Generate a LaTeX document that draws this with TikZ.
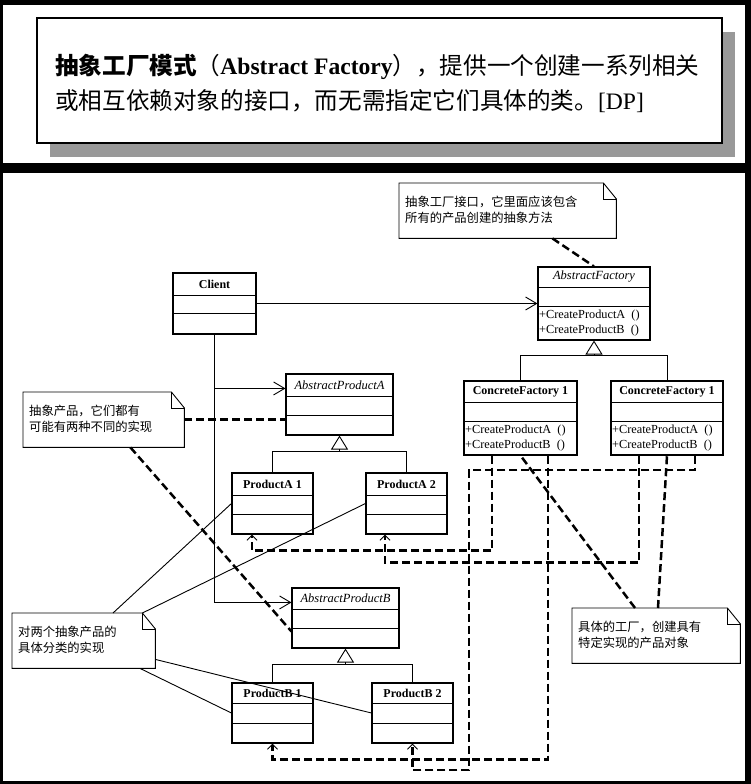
\documentclass[tikz,border=0pt]{standalone}
\usepackage{fontspec}
\setmainfont{Liberation Serif}
\newfontfamily\cjk{Noto Sans CJK SC}
\usetikzlibrary{arrows.meta,calc}

\tikzset{
 thinline/.style={line width=0.9pt},
 clsbox/.style={draw, line width=1.1pt, inner sep=0pt},
 clsname/.style={font=\fontsize{12}{13}\selectfont\bfseries, inner sep=0pt},
 absname/.style={font=\fontsize{12.5}{13}\selectfont\itshape, inner sep=0pt},
 methods/.style={font=\fontsize{12.3}{15}\selectfont, align=left, inner sep=0pt, anchor=west},
 notebox/.style={inner sep=0pt, anchor=north west},
 notetext/.style={font=\cjk\fontsize{12.3}{15.5}\selectfont, align=left, inner sep=0pt, anchor=north west},
 assoc/.style={thinline, -{Straight Barb[length=11pt,width=13pt]}},
 inherit/.style={thinline, -{Triangle[open,length=14pt,width=17pt]}},
 dep/.style={line width=2.5pt, dash pattern=on 8pt off 4pt, -{Straight Barb[length=5pt,width=10pt,line width=1pt]}},
 notelink/.style={line width=2.5pt, dash pattern=on 8pt off 4pt},
}

\newcommand\umlcls[9]{%
 \node[clsbox, minimum width=#4pt, minimum height=#5pt] (#1) at ({#2+#4/2},{#3+#5/2}) {};
 \draw[thinline] ($(#1.north west)+(0,#6)$) -- ($(#1.north east)+(0,#6)$);
 \draw[thinline] ($(#1.north west)+(0,#7)$) -- ($(#1.north east)+(0,#7)$);
 \node[#8] (#1-t) at ($(#1.north)+(0,#6/2)$) {#9};
}
\newcommand\noteshape[1]{%
 \draw[thinline] (#1.north west) -- ([xshift=-13pt]#1.north east) -- ([yshift=-16pt]#1.north east) -- (#1.south east) -- (#1.south west) -- cycle;
 \draw[thinline] ([xshift=-13pt]#1.north east) -- ([xshift=-13pt,yshift=-16pt]#1.north east) -- ([yshift=-16pt]#1.north east);
}

\begin{document}
\begin{tikzpicture}[x=1pt,y=-1pt]
\useasboundingbox (0,0) rectangle (751,784);
% frames
\fill[black] (0,0) rectangle (751,784);
\fill[white] (3,5) rectangle (745,163);
\fill[white] (3,173) rectangle (745,781);
% title box
\fill[black!40] (50,32) rectangle (735,157);
\draw[line width=1.3pt, fill=white] (37,18) rectangle (722,143);
\node[anchor=north west, inner sep=0pt, align=left, font=\fontsize{23.6}{35}\selectfont] (title) at (55,54)
 {{\cjk\bfseries 抽象工厂模式}{\cjk （}\textbf{Abstract Factory}{\cjk ），提供一个创建一系列相关}\\{\cjk 或相互依赖对象的接口，而无需指定它们具体的类。}[DP]};

% classes
\umlcls{Client}{173}{273}{83}{61}{23}{41}{clsname}{Client}
\umlcls{AF}{538}{267}{112}{73}{21}{40}{absname}{AbstractFactory}
\umlcls{CF1}{464}{381}{113}{74}{22}{41}{clsname}{ConcreteFactory 1}
\umlcls{CF2}{611}{381}{112}{74}{22}{41}{clsname}{ConcreteFactory 1}
\umlcls{APA}{286}{374}{107}{61}{23}{42}{absname}{AbstractProductA}
\umlcls{PA1}{232}{473}{81}{61}{23}{42}{clsname}{ProductA 1}
\umlcls{PA2}{366}{473}{81}{61}{23}{42}{clsname}{ProductA 2}
\umlcls{APB}{292}{588}{107}{60}{22}{41}{absname}{AbstractProductB}
\umlcls{PB1}{232}{683}{81}{60}{21}{41}{clsname}{ProductB 1}
\umlcls{PB2}{372}{683}{81}{60}{21}{41}{clsname}{ProductB 2}

\node[methods] (AF-m) at ($(AF.north west)+(1.5,56.5)$) {+CreateProductA\ \ ()\\+CreateProductB\ \ ()};
\node[methods] (CF1-m) at ($(CF1.north west)+(1.5,57.5)$) {+CreateProductA\ \ ()\\+CreateProductB\ \ ()};
\node[methods] (CF2-m) at ($(CF2.north west)+(1.5,57.5)$) {+CreateProductA\ \ ()\\+CreateProductB\ \ ()};

% notes
\node[notebox, minimum width=217pt, minimum height=55pt] (N1) at (399,183) {};
\node[notebox, minimum width=161pt, minimum height=55pt] (N2) at (23,392) {};
\node[notebox, minimum width=143pt, minimum height=55pt] (N3) at (12,613) {};
\node[notebox, minimum width=168pt, minimum height=55pt] (N4) at (572,608) {};
\noteshape{N1}\noteshape{N2}\noteshape{N3}\noteshape{N4}
\node[notetext] (N1-t) at ($(N1.north west)+(6,13)$) {抽象工厂接口，它里面应该包含\\所有的产品创建的抽象方法};
\node[notetext] (N2-t) at ($(N2.north west)+(6,13)$) {抽象产品，它们都有\\可能有两种不同的实现};
\node[notetext] (N3-t) at ($(N3.north west)+(6,13)$) {对两个抽象产品的\\具体分类的实现};
\node[notetext] (N4-t) at ($(N4.north west)+(6,13)$) {具体的工厂，创建具有\\特定实现的产品对象};

% associations
\draw[assoc] (Client.east) -- (AF.west);
\draw[assoc] (Client.south) |- ([yshift=-15pt]APA.north west);
\draw[assoc] (Client.south) |- ([yshift=-15pt]APB.north west);

% inheritance
\coordinate (jA) at ($(APA.south)+(0,16)$);
\draw[thinline] (PA1.north) |- (jA) -| (PA2.north);
\draw[inherit] (jA) -- (APA.south);
\coordinate (jB) at ($(APB.south)+(0,16)$);
\draw[thinline] (PB1.north) |- (jB) -| (PB2.north);
\draw[inherit] (jB) -- (APB.south);
\coordinate (jF) at ($(AF.south)+(0,15)$);
\draw[thinline] (CF1.north) |- (jF) -| (CF2.north);
\draw[inherit] (jF) -- (AF.south);

% dependencies
\draw[dep] ([xshift=-28.5pt]CF1.south) -- ++(0,95) -| ([xshift=-20.5pt]PA1.south);
\draw[dep] ([xshift=-28pt]CF2.south) -- ++(0,107) -| ([xshift=-21.5pt]PA2.south);
\draw[dep] ([xshift=27.5pt]CF1.south) -- ++(0,304) -| (PB1.south);
\coordinate (r4a) at (469,470);
\coordinate (r4b) at (469,770);
\draw[dep] ([xshift=28pt]CF2.south) |- (r4a) -- (r4b) -| (PB2.south);

% note links
\draw[notelink] ([xshift=-64pt]N1.south east) -- (AF.north);
\draw[notelink] (N2.east) -- (N2.east -| APA.west);
\draw[notelink] ([xshift=-54pt]N2.south east) -- ([yshift=-44pt]APB.north west);
\draw[thinline] ([xshift=101pt]N3.north west) -- (PA1.west);
\draw[thinline] ([xshift=-13pt]N3.north east) -- (PA2.west);
\draw[thinline] ([yshift=9pt]N3.south east) -- (PB2.west);
\draw[thinline] ([xshift=128pt]N3.south west) -- (PB1.west);
\draw[notelink] ([xshift=63pt]N4.north west) -- (CF1.south);
\draw[notelink] ([xshift=86pt]N4.north west) -- (CF2.south);
\end{tikzpicture}
\end{document}
